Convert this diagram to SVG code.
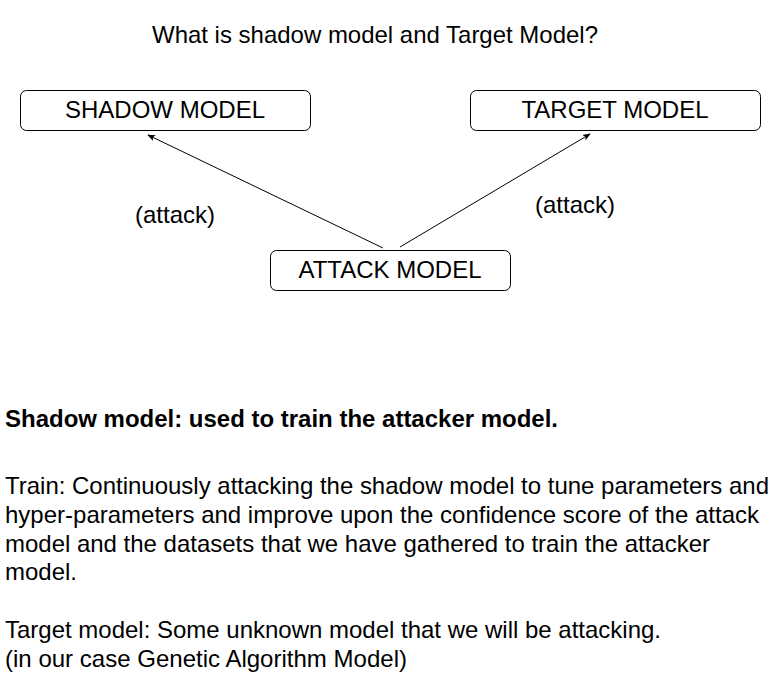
<svg xmlns="http://www.w3.org/2000/svg" width="781" height="691" viewBox="0 0 781 691">
<style>
text{font-family:"Liberation Sans",Arial,sans-serif;font-size:24px;fill:#000}
.c{text-anchor:middle}
.box{fill:#fff;stroke:#000;stroke-width:1}
.edge{stroke:#000;stroke-width:1;fill:none}
</style>
<defs>
<marker id="ah" viewBox="0 0 10 10" refX="9" refY="5" markerWidth="8" markerHeight="8" markerUnits="userSpaceOnUse" orient="auto">
<path d="M0,1 L10,5 L0,9 L2.5,5 Z" fill="#000"/>
</marker>
</defs>
<rect width="781" height="691" fill="#fff"/>
<text id="title" x="375" y="43" class="c" textLength="446" lengthAdjust="spacingAndGlyphs">What is shadow model and Target Model?</text>
<g id="shadow"><rect class="box" x="20.5" y="90.5" width="290" height="40" rx="6"/><text x="165" y="118" class="c">SHADOW MODEL</text></g>
<g id="target"><rect class="box" x="470.5" y="90.5" width="290" height="40" rx="6"/><text x="615" y="118" class="c">TARGET MODEL</text></g>
<g id="attack"><rect class="box" x="270.5" y="250.5" width="240" height="40" rx="6"/><text x="390" y="278" class="c">ATTACK MODEL</text></g>
<g id="connectors">
<line class="edge" x1="383" y1="248" x2="148" y2="135" marker-end="url(#ah)"/>
<line class="edge" x1="400" y1="247" x2="590" y2="134" marker-end="url(#ah)"/>
<text x="175" y="223" class="c">(attack)</text>
<text x="575" y="213" class="c">(attack)</text>
</g>
<g id="notes">
<text x="5" y="427" font-weight="bold" textLength="553" lengthAdjust="spacingAndGlyphs">Shadow model: used to train the attacker model.</text>
<text x="5" y="494" textLength="764" lengthAdjust="spacingAndGlyphs">Train: Continuously attacking the shadow model to tune parameters and</text>
<text x="5" y="523" textLength="754" lengthAdjust="spacingAndGlyphs">hyper-parameters and improve upon the confidence score of the attack</text>
<text x="5" y="552" textLength="705" lengthAdjust="spacingAndGlyphs">model and the datasets that we have gathered to train the attacker</text>
<text x="5" y="580" textLength="72" lengthAdjust="spacingAndGlyphs">model.</text>
<text x="5" y="638" textLength="656" lengthAdjust="spacingAndGlyphs">Target model: Some unknown model that we will be attacking.</text>
<text x="5" y="667" textLength="402" lengthAdjust="spacingAndGlyphs">(in our case Genetic Algorithm Model)</text>
</g>
</svg>
